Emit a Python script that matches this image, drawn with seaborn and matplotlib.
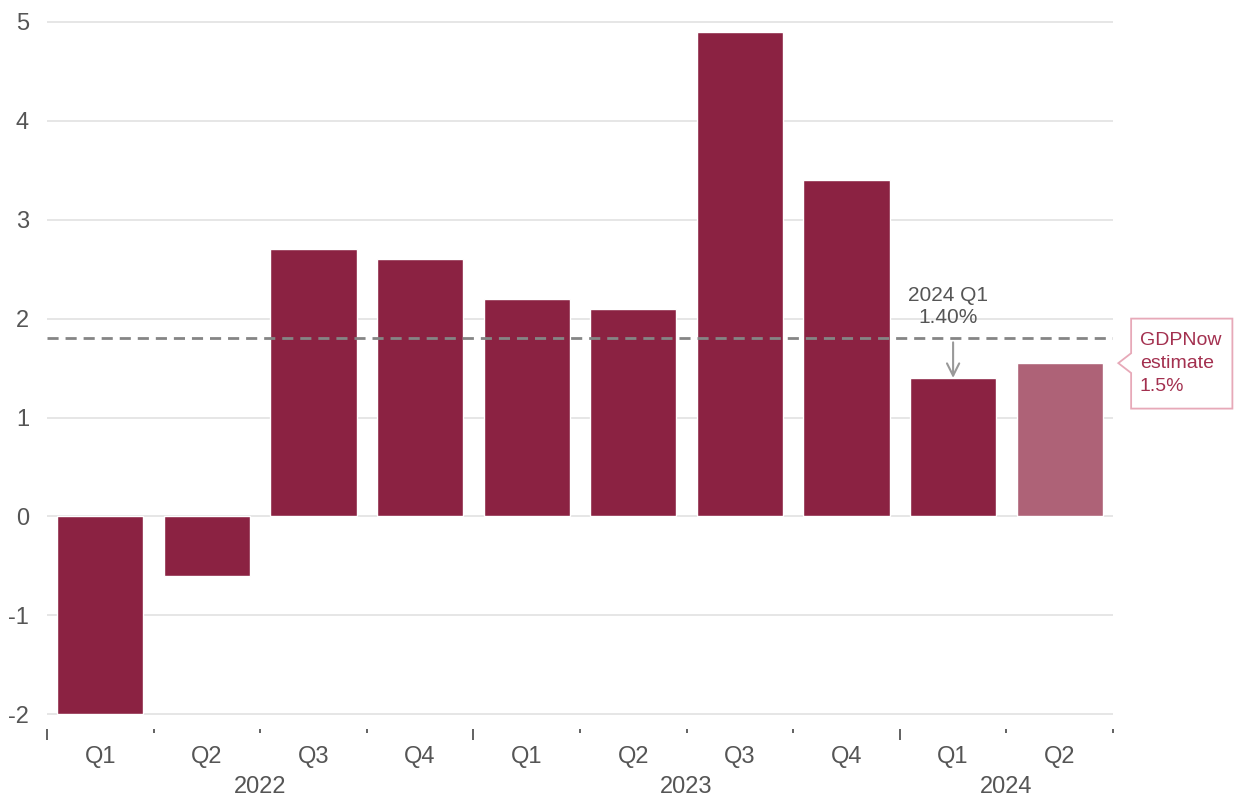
import matplotlib
matplotlib.use("Agg")
import matplotlib.pyplot as plt
import matplotlib.transforms as mtransforms
from matplotlib.patches import Polygon
import seaborn as sns
import pandas as pd

quarters = ["Q1", "Q2", "Q3", "Q4", "Q1", "Q2", "Q3", "Q4", "Q1", "Q2"]
years = ["2022", "2022", "2022", "2022", "2023", "2023", "2023", "2023", "2024", "2024"]
growth = [-2.0, -0.6, 2.7, 2.6, 2.2, 2.1, 4.9, 3.4, 1.4, 1.55]
is_estimate = [False] * 9 + [True]
reference_level = 1.8
q1_label = "2024 Q1\n1.40%"
gdpnow_label = "GDPNow\nestimate\n1.5%"
year_labels = ["2022", "2023", "2024"]
y_ticks = [-2, -1, 0, 1, 2, 3, 4, 5]

dark = "#8B2242"
light = "#AE6277"
text_gray = "#555555"

sns.set_theme(style="white")
plt.rcParams["font.family"] = ["Liberation Sans", "DejaVu Sans"]
plt.rcParams["axes.unicode_minus"] = False

df = pd.DataFrame({
    "label": [f"{y} {q}" for y, q in zip(years, quarters)],
    "growth": growth,
    "kind": ["estimate" if e else "actual" for e in is_estimate],
})

fig = plt.figure(figsize=(12.35, 7.98), dpi=100)
ax = fig.add_axes([47 / 1235, 1 - 729 / 798, (1113 - 47) / 1235, (729 - 17) / 798])

sns.barplot(data=df, x="label", y="growth", hue="kind",
            palette={"actual": dark, "estimate": light},
            dodge=False, width=0.81, legend=False, ax=ax, saturation=1)

ax.set_xlim(-0.5, len(growth) - 0.5)
ax.set_ylim(-2.15, 5.05)
ax.set_yticks(y_ticks)
ax.set_yticklabels([str(v) for v in y_ticks])
ax.yaxis.grid(True, color="#e2e2e2", linewidth=1.2)
ax.set_axisbelow(True)
for s in ax.spines.values():
    s.set_visible(False)
ax.tick_params(axis="y", length=7, color="#cccccc", width=1.2, labelsize=17,
               labelcolor=text_gray, pad=6)
ax.set_xlabel("")
ax.set_ylabel("")

# x ticks: boundaries, long at year boundaries
n = len(growth)
boundaries = [i - 0.5 for i in range(n + 1)]
year_starts = [i - 0.5 for i in range(n) if i == 0 or years[i] != years[i - 1]]
ax.set_xticks(year_starts)
ax.set_xticklabels([])
ax.set_xticks([b for b in boundaries if b not in year_starts], minor=True)
ax.tick_params(axis="x", which="major", length=8, width=1.3, color=text_gray, direction="out")
ax.tick_params(axis="x", which="minor", length=3, width=1.3, color=text_gray, direction="out")
ax.tick_params(axis="x", which="both", bottom=True)

trans = mtransforms.blended_transform_factory(ax.transData, ax.transAxes)
for i, q in enumerate(quarters):
    ax.text(i, -0.04, q, transform=trans, ha="center", va="center",
            fontsize=17, color=text_gray)
for yl in year_labels:
    idx = [i for i, y in enumerate(years) if y == yl]
    center = (idx[0] + idx[-1]) / 2
    ax.text(center, -0.081, yl, transform=trans, ha="center", va="center",
            fontsize=17, color=text_gray)

# dashed reference line
ax.axhline(reference_level, color="#858585", linestyle=(0, (4, 2.5)), linewidth=2, zorder=3)

# 2024 Q1 annotation
q1_idx = 8
ax.annotate("", xy=(q1_idx, growth[q1_idx]), xytext=(q1_idx, reference_level - 0.04),
            arrowprops=dict(arrowstyle="->", color="#999999", lw=1.5,
                            mutation_scale=22, shrinkA=0, shrinkB=0), zorder=4)
ax.text(q1_idx - 0.05, reference_level + 0.12, q1_label, ha="center", va="bottom",
        fontsize=15, color=text_gray, linespacing=1.2)

# GDPNow callout box
est_idx = 9
ev = growth[est_idx]
tip_x = est_idx + 0.55
bx0, bx1 = est_idx + 0.67, est_idx + 1.62
by0, by1 = 1.09, 2.0
poly = Polygon([(tip_x, ev), (bx0, ev + 0.1), (bx0, by1), (bx1, by1), (bx1, by0),
                (bx0, by0), (bx0, ev - 0.1)], closed=True, facecolor="white",
               edgecolor="#E7A9B8", linewidth=1.3, clip_on=False, zorder=5)
ax.add_patch(poly)
ax.text(bx0 + 0.08, (by0 + by1) / 2, gdpnow_label, ha="left", va="center",
        fontsize=14, color="#A3304F", linespacing=1.45, zorder=6, clip_on=False)

fig.savefig("out.png", dpi=100)
